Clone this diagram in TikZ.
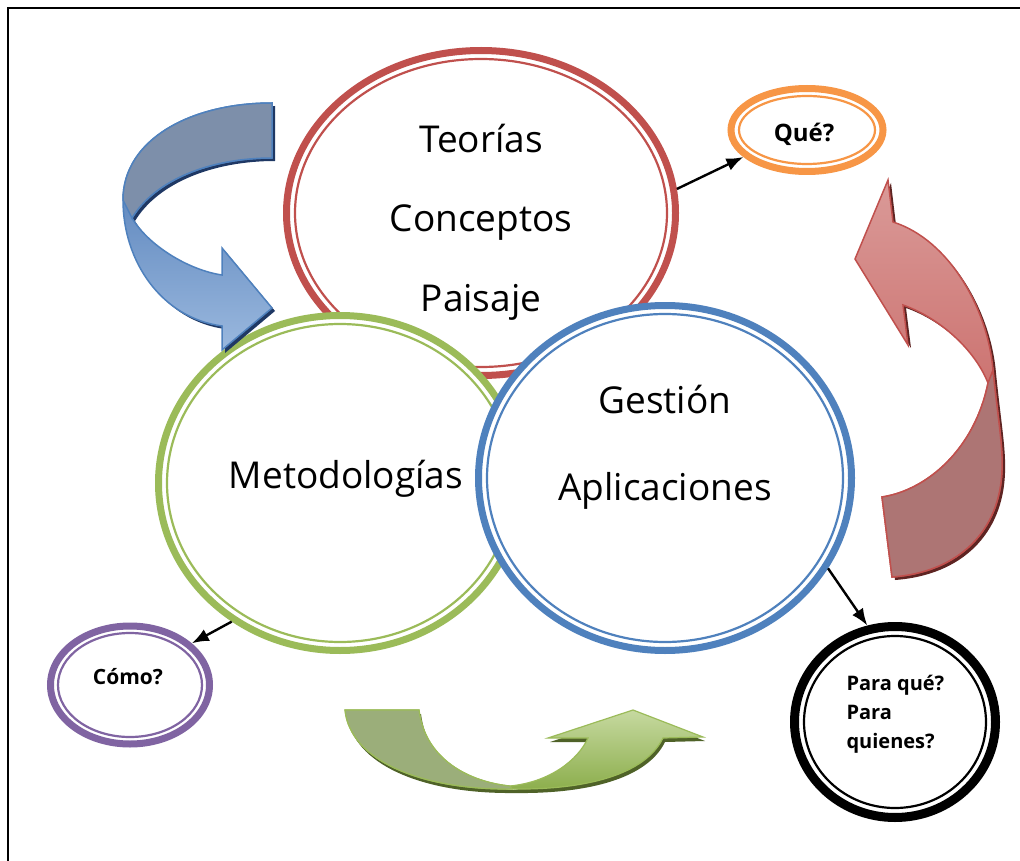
\documentclass[tikz,border=0pt]{standalone}
\usepackage{fontspec}
\setmainfont{Open Sans}
\usetikzlibrary{shapes.geometric,arrows.meta}
\definecolor{redc}{HTML}{C0504D}
\definecolor{redL}{HTML}{DA9A98}
\definecolor{redM}{HTML}{AD7574}
\definecolor{redS}{HTML}{5E2422}
\definecolor{greenc}{HTML}{9BBB59}
\definecolor{greenL}{HTML}{C6D9A0}
\definecolor{greenD}{HTML}{8CAE4C}
\definecolor{greenM}{HTML}{9BAE7A}
\definecolor{greenS}{HTML}{4F6228}
\definecolor{bluec}{HTML}{4F81BD}
\definecolor{blueD}{HTML}{416FAE}
\definecolor{blueL}{HTML}{9AB8DE}
\definecolor{blueM}{HTML}{7D8FAA}
\definecolor{blueS}{HTML}{1F3864}
\definecolor{orangec}{HTML}{F79646}
\definecolor{purplec}{HTML}{8064A2}
\tikzset{
  ring/.style={ellipse, inner sep=0pt, fill=white},
  conn/.style={line width=2.4pt, -{Latex[length=17pt,width=13pt]}},
  big/.style={font=\fontsize{37}{40}\selectfont, anchor=base},
  small/.style={font=\fontsize{20}{29}\selectfont\bfseries},
  bluepath/.style={insert path={(272,103) .. controls (190,103) and (123,140) .. (123,200)
     .. controls (123,262) and (162,318) .. (222,326) -- (222,350) -- (272,308) -- (222,248) -- (222,275)
     .. controls (188,270) and (148,245) .. (132,218)
     .. controls (155,180) and (210,158) .. (272,158) -- cycle}},
  bluetop/.style={insert path={(272,103) .. controls (190,103) and (123,140) .. (123,200)
     -- (132,218) .. controls (155,180) and (210,158) .. (272,158) -- cycle}},
  redpath/.style={insert path={(888,180) -- (893,222) .. controls (950,240) and (988,310) .. (993,370)
     .. controls (998,420) and (1003,445) .. (1002,470)
     .. controls (1000,530) and (960,572) .. (892,577) -- (882,497)
     .. controls (928,490) and (975,448) .. (988,383)
     .. controls (975,350) and (940,318) .. (903,305) -- (908,345) -- (855,259) -- cycle}},
  redlow/.style={insert path={(993,370) .. controls (998,420) and (1003,445) .. (1002,470)
     .. controls (1000,530) and (960,572) .. (892,577) -- (882,497)
     .. controls (928,490) and (975,448) .. (988,383) -- cycle}},
  greenpath/.style={insert path={(345,710) -- (419,710) .. controls (425,760) and (470,782) .. (510,786)
     .. controls (550,782) and (578,760) .. (588,738) -- (548,738) -- (633,710) -- (703,737) -- (663,738)
     .. controls (645,775) and (585,790) .. (512,789)
     .. controls (420,790) and (350,760) .. (345,710) -- cycle}},
  greenleft/.style={insert path={(345,710) -- (419,710) .. controls (425,760) and (470,782) .. (510,786)
     -- (512,789) .. controls (420,790) and (350,760) .. (345,710) -- cycle}}
}
\begin{document}
\begin{tikzpicture}[x=1pt,y=-1pt]
\useasboundingbox (0,0) rectangle (1020,861);
\fill[white] (0,0) rectangle (1020,861);
% frame
\draw[line width=2.5pt] (8,870) -- (8,8) -- (1030,8);

% red ring (Teorias)
\node[ring, draw=redc, line width=7pt, minimum width=389pt, minimum height=325pt] (teo) at (481,213) {};
\draw[redc, line width=2.2pt] (teo.center) ellipse [x radius=186, y radius=154];
% green ring (Metodologias)
\node[ring, draw=greenc, line width=7pt, minimum width=363pt, minimum height=335pt] (met) at (340,483) {};
\draw[greenc, line width=2.2pt] (met.center) ellipse [x radius=173, y radius=159];
% blue ring (Gestion)
\node[ring, draw=bluec, line width=7pt, minimum width=373pt, minimum height=345pt] (ges) at (665,478) {};
\draw[bluec, line width=2.2pt] (ges.center) ellipse [x radius=178, y radius=164];

% small rings
\node[ring, draw=orangec, line width=7pt, minimum width=152pt, minimum height=83pt] (que) at (807,130) {};
\draw[orangec, line width=2.2pt] (que.center) ellipse [x radius=68, y radius=34];
\node[ring, draw=purplec, line width=7pt, minimum width=159pt, minimum height=118pt] (como) at (130,685) {};
\draw[purplec, line width=2.2pt] (como.center) ellipse [x radius=72, y radius=52];
\node[ring, draw=black, line width=9pt, minimum width=201pt, minimum height=191pt] (para) at (895,722) {};
\draw[black, line width=2.2pt] (para.center) ellipse [x radius=91, y radius=86];

% connectors
\draw[conn] (teo.7) -- (que.203);
\draw[conn] (met.232) -- (como.34);
\draw[conn] (ges.-29) -- (para.106);

% blue curved arrow
\begin{scope}[shift={(3,3)}]
\path[fill=blueS, bluepath];
\end{scope}
\path[draw=bluec, line width=1.5pt, top color=blueD, bottom color=blueL, bluepath];
\path[draw=bluec, line width=1.5pt, fill=blueM, bluetop];

% red curved arrow
\begin{scope}[shift={(3,3)}]
\path[fill=redS, redpath];
\end{scope}
\path[draw=redc, line width=1.5pt, top color=redL, middle color=redc, bottom color=redc, redpath];
\path[draw=redc, line width=1.5pt, fill=redM, redlow];

% green curved arrow
\begin{scope}[shift={(2,4)}]
\path[fill=greenS, greenpath];
\end{scope}
\path[draw=greenc, line width=1.2pt, top color=greenL, bottom color=greenD, greenpath];
\path[draw=greenc, line width=1.2pt, fill=greenM, greenleft];

% texts
\node[big] (t1) at (481,153) {Teorías};
\node[big] (t2) at (481,232) {Conceptos};
\node[big] (t3) at (481,311) {Paisaje};
\node[big] (t4) at (346,488) {Metodologías};
\node[big] (t5) at (665,413) {Gestión};
\node[big] (t6) at (665,500) {Aplicaciones};
\node[small, anchor=base, font=\fontsize{24}{29}\selectfont\bfseries] (l1) at (804,142) {Qué?};
\node[small, anchor=base, font=\fontsize{21}{29}\selectfont\bfseries] (l2) at (128,684) {Cómo?};
\node[small, anchor=base west, align=left] (l3) at (843,748) {Para qué?\\Para\\quienes?};
\end{tikzpicture}
\end{document}
